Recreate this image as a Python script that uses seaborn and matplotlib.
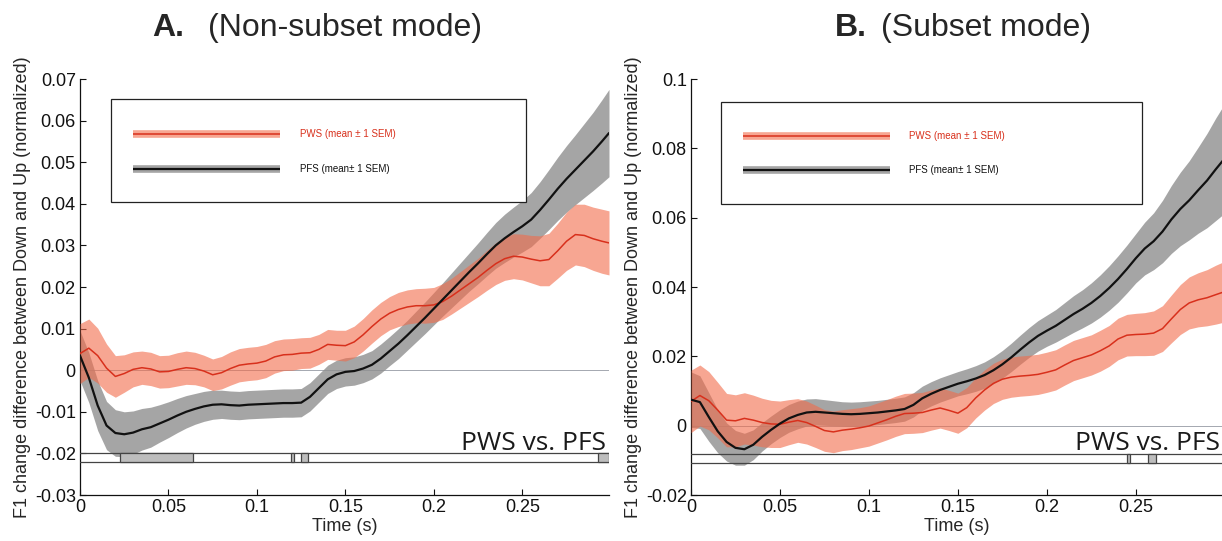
import numpy as np
import pandas as pd
import matplotlib
matplotlib.use("Agg")
import matplotlib.pyplot as plt
from matplotlib.patches import Rectangle
import seaborn as sns

# ---------------------------------------------------------------- data
time_s = [0.000, 0.005, 0.010, 0.015, 0.020, 0.025, 0.030, 0.035, 0.040, 0.045,
          0.050, 0.055, 0.060, 0.065, 0.070, 0.075, 0.080, 0.085, 0.090, 0.095,
          0.100, 0.105, 0.110, 0.115, 0.120, 0.125, 0.130, 0.135, 0.140, 0.145,
          0.150, 0.155, 0.160, 0.165, 0.170, 0.175, 0.180, 0.185, 0.190, 0.195,
          0.200, 0.205, 0.210, 0.215, 0.220, 0.225, 0.230, 0.235, 0.240, 0.245,
          0.250, 0.255, 0.260, 0.265, 0.270, 0.275, 0.280, 0.285, 0.290, 0.295,
          0.299]

# A: non-subset mode
pws_mean_a = [0.0040, 0.0053, 0.0035, 0.0005, -0.0015, -0.0008, 0.0002, 0.0006, 0.0003, -0.0004,
              -0.0003, 0.0002, 0.0006, 0.0004, -0.0002, -0.0011, -0.0006, 0.0004, 0.0012, 0.0015,
              0.0017, 0.0022, 0.0032, 0.0037, 0.0038, 0.0041, 0.0042, 0.0050, 0.0062, 0.0060,
              0.0059, 0.0068, 0.0085, 0.0105, 0.0123, 0.0137, 0.0146, 0.0152, 0.0155, 0.0155,
              0.0157, 0.0165, 0.0178, 0.0193, 0.0208, 0.0223, 0.0240, 0.0256, 0.0268, 0.0274,
              0.0272, 0.0267, 0.0263, 0.0266, 0.0287, 0.0310, 0.0326, 0.0324, 0.0316, 0.0310,
              0.0306]
pws_sem_a = [0.0072, 0.0070, 0.0066, 0.0058, 0.0050, 0.0045, 0.0042, 0.0040, 0.0040, 0.0039,
             0.0039, 0.0040, 0.0040, 0.0039, 0.0038, 0.0038, 0.0039, 0.0040, 0.0040, 0.0040,
             0.0040, 0.0040, 0.0039, 0.0038, 0.0038, 0.0037, 0.0037, 0.0036, 0.0036, 0.0036,
             0.0037, 0.0038, 0.0039, 0.0040, 0.0040, 0.0040, 0.0041, 0.0041, 0.0041, 0.0042,
             0.0042, 0.0043, 0.0043, 0.0044, 0.0045, 0.0046, 0.0048, 0.0050, 0.0052, 0.0054,
             0.0055, 0.0057, 0.0060, 0.0063, 0.0066, 0.0070, 0.0073, 0.0075, 0.0076, 0.0077,
             0.0077]
pfs_mean_a = [0.0035, -0.0018, -0.0085, -0.0133, -0.0151, -0.0154, -0.0150, -0.0142, -0.0137, -0.0128,
              -0.0119, -0.0109, -0.0100, -0.0093, -0.0087, -0.0083, -0.0082, -0.0084, -0.0085, -0.0083,
              -0.0082, -0.0081, -0.0080, -0.0079, -0.0079, -0.0078, -0.0064, -0.0043, -0.0022, -0.0010,
              -0.0004, -0.0002, 0.0004, 0.0013, 0.0028, 0.0046, 0.0064, 0.0084, 0.0105, 0.0126,
              0.0148, 0.0170, 0.0192, 0.0214, 0.0236, 0.0257, 0.0279, 0.0300, 0.0317, 0.0332,
              0.0346, 0.0362, 0.0385, 0.0410, 0.0436, 0.0460, 0.0482, 0.0504, 0.0526, 0.0550,
              0.0570]
pfs_sem_a = [0.0060, 0.0060, 0.0060, 0.0058, 0.0056, 0.0054, 0.0052, 0.0050, 0.0048, 0.0045,
             0.0043, 0.0041, 0.0039, 0.0037, 0.0036, 0.0035, 0.0034, 0.0034, 0.0034, 0.0034,
             0.0034, 0.0034, 0.0034, 0.0034, 0.0034, 0.0034, 0.0034, 0.0034, 0.0034, 0.0034,
             0.0034, 0.0034, 0.0034, 0.0034, 0.0035, 0.0035, 0.0036, 0.0036, 0.0037, 0.0038,
             0.0039, 0.0040, 0.0042, 0.0044, 0.0046, 0.0049, 0.0052, 0.0055, 0.0058, 0.0060,
             0.0062, 0.0065, 0.0068, 0.0072, 0.0076, 0.0080, 0.0084, 0.0089, 0.0094, 0.0100,
             0.0105]

# B: subset mode
pws_mean_b = [0.0070, 0.0087, 0.0072, 0.0045, 0.0016, 0.0014, 0.0021, 0.0016, 0.0009, 0.0005,
              0.0004, 0.0010, 0.0015, 0.0009, -0.0002, -0.0014, -0.0018, -0.0013, -0.0010, -0.0006,
              -0.0001, 0.0008, 0.0017, 0.0027, 0.0035, 0.0036, 0.0038, 0.0045, 0.0051, 0.0044,
              0.0036, 0.0052, 0.0080, 0.0103, 0.0122, 0.0134, 0.0140, 0.0143, 0.0145, 0.0148,
              0.0154, 0.0161, 0.0175, 0.0188, 0.0196, 0.0204, 0.0216, 0.0230, 0.0250, 0.0261,
              0.0263, 0.0264, 0.0267, 0.0280, 0.0308, 0.0335, 0.0354, 0.0363, 0.0369, 0.0378,
              0.0385]
pws_sem_b = [0.0090, 0.0088, 0.0084, 0.0080, 0.0077, 0.0075, 0.0074, 0.0072, 0.0070, 0.0068,
             0.0067, 0.0065, 0.0063, 0.0062, 0.0061, 0.0060, 0.0060, 0.0059, 0.0059, 0.0058,
             0.0058, 0.0058, 0.0058, 0.0058, 0.0058, 0.0058, 0.0058, 0.0058, 0.0058, 0.0058,
             0.0058, 0.0058, 0.0058, 0.0058, 0.0058, 0.0058, 0.0058, 0.0058, 0.0058, 0.0058,
             0.0058, 0.0058, 0.0058, 0.0058, 0.0058, 0.0058, 0.0059, 0.0059, 0.0060, 0.0060,
             0.0061, 0.0062, 0.0064, 0.0066, 0.0069, 0.0072, 0.0075, 0.0078, 0.0081, 0.0085,
             0.0087]
pfs_mean_b = [0.0075, 0.0068, 0.0025, -0.0016, -0.0047, -0.0064, -0.0068, -0.0055, -0.0032, -0.0012,
              0.0006, 0.0021, 0.0031, 0.0038, 0.0040, 0.0038, 0.0036, 0.0034, 0.0033, 0.0034,
              0.0036, 0.0038, 0.0041, 0.0044, 0.0048, 0.0060, 0.0079, 0.0092, 0.0103, 0.0112,
              0.0121, 0.0128, 0.0136, 0.0146, 0.0160, 0.0177, 0.0197, 0.0219, 0.0240, 0.0259,
              0.0274, 0.0288, 0.0305, 0.0322, 0.0337, 0.0354, 0.0374, 0.0397, 0.0423, 0.0452,
              0.0483, 0.0511, 0.0532, 0.0560, 0.0595, 0.0625, 0.0650, 0.0679, 0.0707, 0.0740,
              0.0765]
pfs_sem_b = [0.0080, 0.0076, 0.0070, 0.0062, 0.0055, 0.0050, 0.0046, 0.0043, 0.0041, 0.0040,
             0.0040, 0.0040, 0.0040, 0.0039, 0.0038, 0.0037, 0.0036, 0.0035, 0.0035, 0.0035,
             0.0035, 0.0035, 0.0035, 0.0035, 0.0035, 0.0035, 0.0035, 0.0035, 0.0035, 0.0035,
             0.0035, 0.0036, 0.0037, 0.0038, 0.0039, 0.0040, 0.0041, 0.0042, 0.0043, 0.0044,
             0.0045, 0.0047, 0.0050, 0.0053, 0.0055, 0.0058, 0.0061, 0.0064, 0.0067, 0.0069,
             0.0071, 0.0076, 0.0082, 0.0090, 0.0098, 0.0106, 0.0114, 0.0124, 0.0136, 0.0148,
             0.0156]

# time windows where PWS and PFS differ significantly (start, end) in s
sig_windows_a = [(0.0226, 0.0638), (0.1190, 0.1210), (0.1247, 0.1287), (0.2930, 0.2990)]
sig_windows_b = [(0.2450, 0.2465), (0.2567, 0.2615)]

titles = [("A.", "(Non-subset mode)"), ("B.", "(Subset mode)")]
yticks_a = [-0.03, -0.02, -0.01, 0, 0.01, 0.02, 0.03, 0.04, 0.05, 0.06, 0.07]
yticklabels_a = ["-0.03", "-0.02", "-0.01", "0", "0.01", "0.02", "0.03", "0.04", "0.05", "0.06", "0.07"]
yticks_b = [-0.02, 0, 0.02, 0.04, 0.06, 0.08, 0.1]
yticklabels_b = ["-0.02", "0", "0.02", "0.04", "0.06", "0.08", "0.1"]
xticks = [0, 0.05, 0.1, 0.15, 0.2, 0.25]
xticklabels = ["0", "0.05", "0.1", "0.15", "0.2", "0.25"]

ylabel = "F1 change difference between Down and Up (normalized)"
legend_labels = ["PWS (mean \u00b1 1 SEM)", "PFS (mean\u00b1 1 SEM)"]

# ---------------------------------------------------------------- style
sns.set_theme(style="ticks")
plt.rcParams["font.family"] = ["Liberation Sans", "DejaVu Sans"]

RED_BAND = "#f26b4a"
RED_LINE = "#d8301c"
GRAY_BAND = "#8f8f8f"
GRAY_ALPHA = 0.8
BLACK_LINE = "#111111"

W, H = 1222, 541
fig = plt.figure(figsize=(W / 100, H / 100), dpi=100)
ax_a = fig.add_axes([80 / W, 1 - 495 / H, 529 / W, 416 / H])
ax_b = fig.add_axes([691 / W, 1 - 495 / H, 532 / W, 416 / H])


def draw_panel(ax, pws_m, pws_s, pfs_m, pfs_s, sig, bar_lo, bar_hi, ylim, yt, ytl,
               legend_box):
    t = np.asarray(time_s)
    df = pd.DataFrame({"t": t, "pws": pws_m, "pfs": pfs_m})
    pws_m = np.asarray(pws_m); pws_s = np.asarray(pws_s)
    pfs_m = np.asarray(pfs_m); pfs_s = np.asarray(pfs_s)

    ax.axhline(0, color="#a4a8b0", lw=0.7, zorder=1)

    # SEM bands
    ax.fill_between(t, pfs_m - pfs_s, pfs_m + pfs_s, color=GRAY_BAND, alpha=GRAY_ALPHA,
                    lw=0, zorder=2)
    ax.fill_between(t, pws_m - pws_s, pws_m + pws_s, color=RED_BAND, alpha=0.6,
                    lw=0, zorder=3)
    # mean traces
    sns.lineplot(data=df, x="t", y="pfs", ax=ax, color=BLACK_LINE, lw=1.6,
                 errorbar=None, zorder=5)
    sns.lineplot(data=df, x="t", y="pws", ax=ax, color=RED_LINE, lw=1.1,
                 errorbar=None, zorder=4)

    # significance strip
    ax.axhline(bar_hi, color="#444444", lw=0.9, zorder=6)
    ax.axhline(bar_lo, color="#444444", lw=0.9, zorder=6)
    for s, e in sig:
        ax.add_patch(Rectangle((s, bar_lo), e - s, bar_hi - bar_lo,
                               facecolor="#bdbdbd", edgecolor="#444444", lw=0.9,
                               zorder=7))
    ax.text(0.995, 0.108, "PWS vs. PFS", transform=ax.transAxes, ha="right",
            va="baseline", fontsize=19, family=["Open Sans", "DejaVu Sans"],
            color="#1a1a1a", zorder=8)

    # legend box
    x0, x1, y0, y1, lx0, lx1, tx, ly_r, ly_g = legend_box
    ax.add_patch(Rectangle((x0, y0), x1 - x0, y1 - y0, transform=ax.transAxes,
                           facecolor="white", edgecolor="#222222", lw=0.9, zorder=9))
    ax.plot([lx0, lx1], [ly_r, ly_r], transform=ax.transAxes, color=RED_BAND,
            alpha=0.6, lw=5.5, solid_capstyle="butt", zorder=10)
    ax.plot([lx0, lx1], [ly_r, ly_r], transform=ax.transAxes, color=RED_LINE,
            lw=1.1, solid_capstyle="butt", zorder=11)
    ax.plot([lx0, lx1], [ly_g, ly_g], transform=ax.transAxes, color=GRAY_BAND,
            alpha=GRAY_ALPHA, lw=5.5, solid_capstyle="butt", zorder=10)
    ax.plot([lx0, lx1], [ly_g, ly_g], transform=ax.transAxes, color=BLACK_LINE,
            lw=1.6, solid_capstyle="butt", zorder=11)
    ax.text(tx, ly_r, legend_labels[0], transform=ax.transAxes, fontsize=7,
            color=RED_LINE, va="center", ha="left", zorder=12)
    ax.text(tx, ly_g, legend_labels[1], transform=ax.transAxes, fontsize=7,
            color="#111111", va="center", ha="left", zorder=12)

    # axes
    ax.set_xlim(0, 0.299)
    ax.set_ylim(*ylim)
    ax.set_xticks(xticks)
    ax.set_xticklabels(xticklabels)
    ax.set_yticks(yt)
    ax.set_yticklabels(ytl)
    ax.tick_params(direction="in", length=4, width=0.8, labelsize=13, pad=3,
                   colors="#111111")
    ax.set_xlabel("Time (s)", fontsize=13, labelpad=1)
    ax.set_ylabel(ylabel, fontsize=13, labelpad=3)
    sns.despine(ax=ax)
    for sp in ("left", "bottom"):
        ax.spines[sp].set_linewidth(0.9)
        ax.spines[sp].set_color("#111111")
    ax.set_facecolor("white")


draw_panel(ax_a, pws_mean_a, pws_sem_a, pfs_mean_a, pfs_sem_a, sig_windows_a,
           -0.0220, -0.0198, (-0.03, 0.07), yticks_a, yticklabels_a,
           (0.0586, 0.843, 0.704, 0.952, 0.100, 0.378, 0.416, 0.868, 0.784))
draw_panel(ax_b, pws_mean_b, pws_sem_b, pfs_mean_b, pfs_sem_b, sig_windows_b,
           -0.0107, -0.0081, (-0.02, 0.1), yticks_b, yticklabels_b,
           (0.056, 0.848, 0.700, 0.945, 0.098, 0.374, 0.410, 0.863, 0.781))

# panel titles: bold letter followed by the mode name
fig.text(152 / W, 1 - 36 / H, titles[0][0], fontsize=23, fontweight="bold",
         ha="left", va="baseline")
fig.text(208 / W, 1 - 36 / H, titles[0][1], fontsize=23, ha="left", va="baseline")
fig.text(835 / W, 1 - 36 / H, titles[1][0], fontsize=23, fontweight="bold",
         ha="left", va="baseline")
fig.text(881 / W, 1 - 36 / H, titles[1][1], fontsize=23, ha="left", va="baseline")

fig.savefig("out.png", dpi=100, facecolor="white")
